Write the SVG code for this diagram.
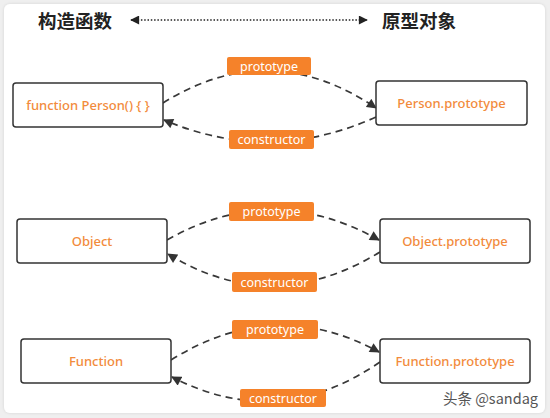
<svg xmlns="http://www.w3.org/2000/svg" width="550" height="418" viewBox="0 0 550 418">
<defs>
<marker id="ah" viewBox="0 0 10 10" refX="9" refY="5" markerWidth="11" markerHeight="10" markerUnits="userSpaceOnUse" orient="auto">
<path d="M0,0 L10,5 L0,10 z" fill="#333"/>
</marker>
<marker id="th" viewBox="0 0 10 10" refX="9" refY="5" markerWidth="13" markerHeight="9" markerUnits="userSpaceOnUse" orient="auto-start-reverse">
<path d="M0,0 L10,5 L0,10 z" fill="#222"/>
</marker>
<filter id="sh" x="-5%" y="-5%" width="110%" height="110%">
<feDropShadow dx="0" dy="0" stdDeviation="1.5" flood-color="#000" flood-opacity="0.12"/>
</filter>
</defs>
<style>
.node rect{fill:#fff;stroke:#333;stroke-width:1.5}
.node text{fill:#f28b3c;font-family:"Noto Sans","Liberation Sans",sans-serif;font-size:13px;font-weight:500;text-anchor:middle;dominant-baseline:central}
.lbl rect{fill:#f5822a}
.lbl text{fill:#fff;font-family:"Noto Sans","Liberation Sans",sans-serif;font-size:12.5px;text-anchor:middle;dominant-baseline:central}
.edge{fill:none;stroke:#383838;stroke-width:1.7;stroke-dasharray:7 5}
.title{font-family:"Noto Sans CJK SC","Noto Sans",sans-serif;font-size:18.5px;font-weight:bold;fill:#222}
</style>
<rect x="0" y="0" width="550" height="418" fill="#efefef"/>
<rect x="4" y="4" width="541" height="409" rx="6" fill="#fff" filter="url(#sh)"/>

<g id="title">
<text class="title" x="38" y="28">构造函数</text>
<text class="title" x="382" y="28">原型对象</text>
<line x1="131" y1="20" x2="367" y2="20" stroke="#222" stroke-width="1.3" stroke-dasharray="1.5 1.8" marker-start="url(#th)" marker-end="url(#th)"/>
</g>

<g id="connectors">
<path class="edge" d="M163,103 Q270,36 376,108" marker-end="url(#ah)"/>
<path class="edge" d="M376,117 Q270,165 164,120" marker-end="url(#ah)"/>
<path class="edge" d="M167,240 Q272,180 379,240" marker-end="url(#ah)"/>
<path class="edge" d="M380,252 Q272,318 168,254" marker-end="url(#ah)"/>
<path class="edge" d="M171,360 Q275,295 379,352" marker-end="url(#ah)"/>
<path class="edge" d="M380,362 Q278,432 172,377" marker-end="url(#ah)"/>
</g>

<g id="lbl-proto-1" class="lbl"><rect x="227" y="57" width="84" height="18" rx="2"/><text x="269" y="66">prototype</text></g>
<g id="lbl-cons-1" class="lbl"><rect x="229" y="130" width="85" height="19" rx="2"/><text x="271.5" y="139.5">constructor</text></g>
<g id="lbl-proto-2" class="lbl"><rect x="229" y="202" width="85" height="19" rx="2"/><text x="271.5" y="211.5">prototype</text></g>
<g id="lbl-cons-2" class="lbl"><rect x="232" y="272" width="85" height="20" rx="2"/><text x="274.5" y="282">constructor</text></g>
<g id="lbl-proto-3" class="lbl"><rect x="232" y="320" width="86" height="19" rx="2"/><text x="275" y="329.5">prototype</text></g>
<g id="lbl-cons-3" class="lbl"><rect x="240" y="389" width="86" height="18" rx="2"/><text x="283" y="398">constructor</text></g>

<g id="person" class="node"><rect x="13" y="83" width="150" height="44" rx="3"/><text x="88" y="105">function Person() { }</text></g>
<g id="person-prototype" class="node"><rect x="376" y="81" width="151" height="44" rx="3"/><text x="451.5" y="103">Person.prototype</text></g>
<g id="object" class="node"><rect x="17" y="219" width="150" height="44" rx="3"/><text x="92" y="241">Object</text></g>
<g id="object-prototype" class="node"><rect x="380" y="219" width="150" height="44" rx="3"/><text x="455" y="241">Object.prototype</text></g>
<g id="function" class="node"><rect x="21" y="339" width="150" height="44" rx="3"/><text x="96" y="361">Function</text></g>
<g id="function-prototype" class="node"><rect x="380" y="339" width="150" height="44" rx="3"/><text x="455" y="361">Function.prototype</text></g>

<text x="538" y="404" text-anchor="end" font-family="Noto Sans CJK SC,Noto Sans,sans-serif" font-size="14.5" fill="#555">头条 @sandag</text>
</svg>
